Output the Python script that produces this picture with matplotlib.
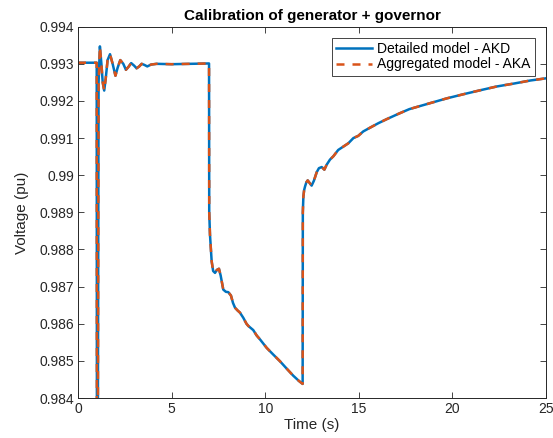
import matplotlib
matplotlib.use("Agg")
import matplotlib.pyplot as plt

plt.rcParams['font.family'] = ['Liberation Sans', 'DejaVu Sans']

# Time (s) and voltage (pu)
time_s = [0.0, 1.0, 1.01, 1.06, 1.10, 1.17, 1.25, 1.32, 1.40, 1.48, 1.58, 1.71, 1.85, 2.00,
          2.12, 2.26, 2.42, 2.56, 2.70, 2.84, 3.00, 3.13, 3.27, 3.40, 3.55, 3.70, 3.90,
          4.20, 5.00, 6.00, 7.00,
          7.01, 7.05, 7.14, 7.22, 7.32, 7.42, 7.53, 7.62, 7.76, 7.90, 8.03, 8.17, 8.28,
          8.39, 8.52, 8.65, 8.83, 9.00, 9.10, 9.36, 9.55, 9.72, 10.08, 10.43, 10.79,
          11.15, 11.50, 11.80, 12.00,
          12.01, 12.04, 12.08, 12.13, 12.20, 12.27, 12.36, 12.48, 12.60, 12.75, 12.87,
          13.02, 13.16, 13.28, 13.46, 13.64, 13.90, 14.17, 14.44, 14.71, 14.97, 15.24,
          15.60, 16.04, 16.49, 17.10, 17.70, 18.80, 19.70, 20.58, 21.50, 22.37, 23.30,
          24.15, 25.00]
voltage = [0.99303, 0.99303, 0.9830, 0.9830, 0.9925, 0.99347, 0.99300, 0.99250, 0.99228,
           0.99260, 0.99310, 0.99326, 0.99300, 0.99268, 0.99290, 0.99310, 0.99300,
           0.99284, 0.99292, 0.99302, 0.99295, 0.99288, 0.99293, 0.99300, 0.99297,
           0.99293, 0.99298, 0.99300, 0.99299, 0.99300, 0.99301,
           0.98900, 0.98840, 0.98768, 0.98742, 0.98737, 0.98745, 0.98748, 0.98730,
           0.98692, 0.98686, 0.98685, 0.98676, 0.98656, 0.98643, 0.98636, 0.98630,
           0.98616, 0.98600, 0.98594, 0.98583, 0.98568, 0.98558, 0.98535, 0.98517,
           0.98499, 0.98479, 0.98460, 0.98446, 0.98438,
           0.98900, 0.98943, 0.98960, 0.98970, 0.98981, 0.98986, 0.98980, 0.98972,
           0.98985, 0.99008, 0.99019, 0.99022, 0.99015, 0.99028, 0.99042, 0.99051,
           0.99068, 0.99077, 0.99086, 0.99100, 0.99106, 0.99118, 0.99128, 0.99140,
           0.99151, 0.99165, 0.99178, 0.99194, 0.99207, 0.99218, 0.99229, 0.99239,
           0.99247, 0.99255, 0.99261]

series_labels = ["Detailed model - AKD", "Aggregated model - AKA"]
x_ticks = [0, 5, 10, 15, 20, 25]
y_ticks = [0.984, 0.985, 0.986, 0.987, 0.988, 0.989, 0.99, 0.991, 0.992, 0.993, 0.994]
y_tick_labels = ["0.984", "0.985", "0.986", "0.987", "0.988", "0.989", "0.99",
                 "0.991", "0.992", "0.993", "0.994"]

fig = plt.figure(figsize=(5.53, 4.38), dpi=100)
ax = fig.add_axes([78 / 553, 40 / 438, (546 - 78) / 553, (398 - 26.7) / 438])

ax.plot(time_s, voltage, color='#0072BD', lw=1.8, label=series_labels[0])
ax.plot(time_s, voltage, color='#D95319', lw=1.8, ls=(0, (3.2, 3.2)), label=series_labels[1])

ax.set_xlim(0, 25)
ax.set_ylim(0.984, 0.994)
ax.set_xticks(x_ticks)
ax.set_xticklabels([str(t) for t in x_ticks])
ax.set_yticks(y_ticks)
ax.set_yticklabels(y_tick_labels)

dark = '#262626'
ax.tick_params(direction='in', length=4, width=0.6, top=True, right=True,
               labelsize=10, colors=dark, pad=3)
for s in ax.spines.values():
    s.set_color(dark)
    s.set_linewidth(0.7)

ax.set_xlabel("Time (s)", fontsize=11, color=dark, labelpad=1)
ax.set_ylabel("Voltage (pu)", fontsize=11, color=dark, labelpad=7)
ax.set_title("Calibration of generator + governor", fontsize=11, fontweight='bold',
             color='black', pad=5)

leg = ax.legend(loc='upper right', fontsize=10, frameon=True, fancybox=False,
                borderpad=0.3, labelspacing=0.1, handlelength=2.6, handletextpad=0.4,
                borderaxespad=0.8)
leg.get_frame().set_edgecolor(dark)
leg.get_frame().set_linewidth(0.6)
leg.get_frame().set_alpha(1)

fig.savefig("out.png", dpi=100)
